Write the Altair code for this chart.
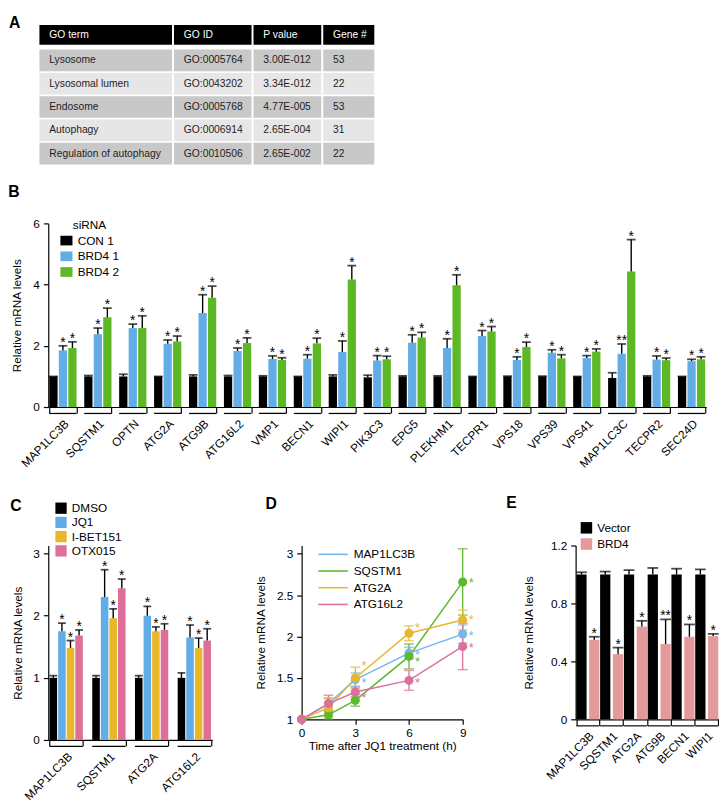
import altair as alt
import pandas as pd

FONT = "Liberation Sans"

# ---------------- Panel A: GO enrichment table ----------------
go_header = ["GO term", "GO ID", "P value", "Gene #"]
go_terms = ["Lysosome", "Lysosomal lumen", "Endosome", "Autophagy", "Regulation of autophagy"]
go_ids = ["GO:0005764", "GO:0043202", "GO:0005768", "GO:0006914", "GO:0010506"]
p_values = ["3.00E-012", "3.34E-012", "4.77E-005", "2.65E-004", "2.65E-002"]
gene_counts = ["53", "22", "53", "31", "22"]

# ---------------- Panel B: siRNA knockdown ----------------
genes_B = ["MAP1LC3B", "SQSTM1", "OPTN", "ATG2A", "ATG9B", "ATG16L2", "VMP1", "BECN1", "WIPI1",
           "PIK3C3", "EPG5", "PLEKHM1", "TECPR1", "VPS18", "VPS39", "VPS41", "MAP1LC3C", "TECPR2", "SEC24D"]
series_B = ["CON 1", "BRD4 1", "BRD4 2"]
con1 = [1, 1, 1, 1, 1, 1, 1, 1, 1, 0.97, 1, 1, 1, 1, 1, 1, 0.95, 1, 1]
con1_err = [0.0, 0.03, 0.07, 0.0, 0.05, 0.03, 0.02, 0.0, 0.05, 0.07, 0.02, 0.02, 0.0, 0.01, 0.01, 0.0, 0.17, 0.02, 0.0]
brd4_1 = [1.85, 2.38, 2.58, 2.07, 3.07, 1.83, 1.57, 1.58, 1.80, 1.52, 2.10, 1.93, 2.32, 1.54, 1.77, 1.60, 1.74, 1.55, 1.50]
brd4_1_err = [0.15, 0.20, 0.13, 0.12, 0.60, 0.10, 0.10, 0.13, 0.36, 0.16, 0.26, 0.30, 0.18, 0.10, 0.10, 0.08, 0.32, 0.12, 0.06]
brd4_2 = [1.93, 2.93, 2.58, 2.14, 3.57, 2.09, 1.54, 2.08, 4.17, 1.56, 2.27, 3.98, 2.47, 1.96, 1.59, 1.81, 4.43, 1.53, 1.56]
brd4_2_err = [0.20, 0.30, 0.40, 0.18, 0.38, 0.17, 0.07, 0.17, 0.45, 0.10, 0.17, 0.34, 0.16, 0.16, 0.12, 0.09, 1.04, 0.07, 0.08]
stars_B1 = ["*", "*", "*", "*", "*", "*", "*", "*", "*", "*", "*", "*", "*", "*", "*", "*", "**", "*", "*"]
stars_B2 = ["*"] * 19
colors_B = ["#000000", "#62ade8", "#5cb824"]

# ---------------- Panel C: BET inhibitors ----------------
genes_C = ["MAP1LC3B", "SQSTM1", "ATG2A", "ATG16L2"]
series_C = ["DMSO", "JQ1", "I-BET151", "OTX015"]
dmso = [1.0, 1.0, 1.0, 1.0]
dmso_err = [0.035, 0.035, 0.035, 0.08]
jq1 = [1.75, 2.30, 2.00, 1.65]
jq1_err = [0.13, 0.44, 0.15, 0.20]
ibet151 = [1.48, 1.96, 1.75, 1.48]
ibet151_err = [0.12, 0.15, 0.07, 0.16]
otx015 = [1.68, 2.44, 1.77, 1.60]
otx015_err = [0.09, 0.15, 0.10, 0.19]
colors_C = ["#000000", "#62ade8", "#e8b82a", "#de6f9b"]

# ---------------- Panel D: time course ----------------
time_h = [0, 1.5, 3, 6, 9]
genes_D = ["MAP1LC3B", "SQSTM1", "ATG2A", "ATG16L2"]
d_map1lc3b = [1.0, 1.19, 1.48, 1.80, 2.03]
d_map1lc3b_err = [0.0, 0.07, 0.08, 0.07, 0.11]
d_sqstm1 = [1.0, 1.055, 1.23, 1.76, 2.66]
d_sqstm1_err = [0.0, 0.05, 0.07, 0.15, 0.40]
d_atg2a = [1.0, 1.14, 1.50, 2.04, 2.20]
d_atg2a_err = [0.0, 0.11, 0.13, 0.09, 0.12]
d_atg16l2 = [1.0, 1.19, 1.33, 1.47, 1.88]
d_atg16l2_err = [0.0, 0.10, 0.06, 0.12, 0.28]
star_D_gene = ["ATG2A", "MAP1LC3B", "ATG16L2",
               "ATG2A", "MAP1LC3B", "SQSTM1", "ATG16L2",
               "SQSTM1", "ATG2A", "MAP1LC3B", "ATG16L2"]
star_D_time = [3, 3, 3, 6, 6, 6, 6, 9, 9, 9, 9]
star_D_y = [1.67, 1.46, 1.28, 2.13, 1.80, 1.71, 1.46, 2.67, 2.22, 2.03, 1.89]
colors_D = ["#74b6ea", "#5cb82e", "#e9b632", "#dd6f9c"]

# ---------------- Panel E: BRD4 overexpression ----------------
genes_E = ["MAP1LC3B", "SQSTM1", "ATG2A", "ATG9B", "BECN1", "WIPI1"]
series_E = ["Vector", "BRD4"]
vector = [1.0, 1.0, 1.0, 1.0, 1.0, 1.0]
vector_err = [0.015, 0.02, 0.03, 0.045, 0.04, 0.035]
brd4_oe = [0.55, 0.45, 0.64, 0.52, 0.57, 0.575]
brd4_oe_err = [0.02, 0.045, 0.04, 0.17, 0.085, 0.015]
stars_E = ["*", "*", "*", "**", "*", "*"]
colors_E = ["#000000", "#e49a9a"]


def letter(t, dx=0, offset=0):
    return alt.TitleParams(t, anchor="start", frame="bounds", fontSize=16, fontWeight="bold",
                           font=FONT, dx=dx, offset=offset, color="black")


# ================= Panel A =================
col_w = [135, 79, 69, 52]
col_gap = 2
hang = 9  # the table starts this many px left of the shared plot origin
head_h, head_gap, row_h, row_gap = 20, 5, 22, 1.75
row_fills = ["#000000", "#c8c8c8", "#e6e6e6", "#c8c8c8", "#e6e6e6", "#c8c8c8"]
x_edges = []
xc = 0
for w in col_w:
    x_edges.append((xc, xc + w))
    xc += w + col_gap
table_rows = [go_header] + [list(r) for r in zip(go_terms, go_ids, p_values, gene_counts)]
cells = []
yc = 0
for r, row in enumerate(table_rows):
    h = head_h if r == 0 else row_h
    for c, txt in enumerate(row):
        cells.append(dict(x0=x_edges[c][0], x1=x_edges[c][1], y0=yc, y1=yc + h, ym=yc + h / 2,
                          text=txt, fill=row_fills[r], tcolor="#ffffff" if r == 0 else "#1e1e1e"))
    yc += h + (head_gap if r == 0 else row_gap)
dfA = pd.DataFrame(cells)
table_w = x_edges[-1][1]
table_h = yc - row_gap
sxA = alt.Scale(domain=[hang, table_w], nice=False, zero=False)
syA = alt.Scale(domain=[0, table_h], nice=False, zero=False, reverse=True)
rectA = alt.Chart(dfA).mark_rect().encode(
    x=alt.X("x0:Q", scale=sxA, axis=None), x2="x1:Q",
    y=alt.Y("y0:Q", scale=syA, axis=None), y2="y1:Q",
    color=alt.Color("fill:N", scale=None))
textA = alt.Chart(dfA).mark_text(align="left", baseline="middle", dx=10, fontSize=10.5, font=FONT).encode(
    x=alt.X("x0:Q", scale=sxA, axis=None),
    y=alt.Y("ym:Q", scale=syA, axis=None),
    text="text:N", color=alt.Color("tcolor:N", scale=None))
panelA = alt.layer(rectA, textA).properties(width=table_w - hang, height=table_h,
                                             title=letter("A", dx=-31, offset=-6))


# ================= bar panel helper =================
def bar_panel(genes, series, value_lists, err_lists, star_lists, colors, ymax, yvals, width, height,
              group_pad, bar_pad, legend, title_pad, label_pad, cap_w, under_y):
    rows = []
    for s, vals, errs, sts in zip(series, value_lists, err_lists, star_lists):
        for i, g in enumerate(genes):
            rows.append(dict(gene=g, grp=s, value=vals[i], top=vals[i] + errs[i],
                             star="" if sts is None else sts[i]))
    df = pd.DataFrame(rows)
    x = alt.X("gene:N", sort=genes, title=None,
              scale=alt.Scale(domain=genes, paddingInner=group_pad, paddingOuter=0.03),
              axis=alt.Axis(labelAngle=-45, tickBand="extent", tickSize=6, labelPadding=label_pad,
                            labelFontSize=12))
    xo = alt.XOffset("grp:N", sort=series, scale=alt.Scale(domain=series, paddingInner=bar_pad, paddingOuter=0))
    y = alt.Y("value:Q", title="Relative mRNA levels",
              scale=alt.Scale(domain=[0, ymax], nice=False, zero=True),
              axis=alt.Axis(values=yvals, format="~g", tickSize=5, labelPadding=4, titlePadding=title_pad,
                            labelOverlap=False))
    base = alt.Chart(df).encode(x=x, xOffset=xo)
    bars = base.mark_bar().encode(
        y=y,
        color=alt.Color("grp:N", sort=series, scale=alt.Scale(domain=series, range=colors), legend=legend))
    err = base.mark_rule(color="black", strokeWidth=1.4).encode(y="value:Q", y2="top:Q")
    caps = base.mark_tick(color="black", orient="horizontal", size=cap_w, thickness=1.8).encode(y="top:Q")
    stars = base.mark_text(fontSize=14, baseline="alphabetic", dy=1, color="black", font=FONT).encode(
        y="top:Q", text="star:N")
    under = alt.Chart(pd.DataFrame({"gene": genes})).mark_bar(color="black").encode(
        x=alt.X("gene:N", sort=genes), y=alt.datum(under_y[0]), y2=alt.datum(under_y[1]))
    return alt.layer(bars, err, caps, stars, under).properties(width=width, height=height)


# ================= Panel B =================
legend_B = alt.Legend(title="siRNA", orient="none", legendX=12, legendY=-3, titleFontSize=12,
                      titleFontWeight="normal", titlePadding=2, titleAnchor="middle", titleAlign="center",
                      labelFontSize=12, padding=0,
                      symbolType="M-1,-0.8H1V0.8H-1Z", symbolSize=151, symbolStrokeWidth=0,
                      symbolOpacity=1, rowPadding=3, labelOffset=5)
panelB = bar_panel(genes_B, series_B, [con1, brd4_1, brd4_2], [con1_err, brd4_1_err, brd4_2_err],
                   [None, stars_B1, stars_B2], colors_B, 6, [0, 1, 2, 3, 4, 5, 6], 670, 187,
                   0.22, 0.13, legend_B, 10, 5, 9, (-0.19, -0.23)).properties(
    title=letter("B", dx=-2, offset=18))

# ================= Panel C =================
legend_C = alt.Legend(title=None, orient="none", legendX=7, legendY=-44, labelFontSize=12, padding=0,
                      symbolType="square", symbolSize=132, symbolStrokeWidth=0, symbolOpacity=1,
                      rowPadding=2.5, labelOffset=5)
panelC = bar_panel(genes_C, series_C, [dmso, jq1, ibet151, otx015],
                   [dmso_err, jq1_err, ibet151_err, otx015_err],
                   [None, ["*"] * 4, ["*"] * 4, ["*"] * 4], colors_C, 3.13,
                   [0, 0.5, 1, 1.5, 2, 2.5, 3], 167, 198, 0.22, 0.12, legend_C, 9, 5, 8,
                   (-0.095, -0.113)).properties(title=letter("C", dx=-1, offset=-12))

# ================= Panel E =================
legend_E = alt.Legend(title=None, orient="none", legendX=5, legendY=-24, labelFontSize=12, padding=0,
                      symbolType="square", symbolSize=137, symbolStrokeWidth=0, symbolOpacity=1,
                      rowPadding=4.5, labelOffset=5)
panelE = bar_panel(genes_E, series_E, [vector, brd4_oe], [vector_err, brd4_oe_err],
                   [None, stars_E], colors_E, 1.2, [0, 0.2, 0.4, 0.6, 0.8, 1, 1.2], 146, 177,
                   0.03, 0.2, legend_E, 15, 5, 11, (-0.041, -0.049)).properties(
    title=letter("E", dx=-17, offset=11))

# ================= Panel D =================
d_vals = [d_map1lc3b, d_sqstm1, d_atg2a, d_atg16l2]
d_errs = [d_map1lc3b_err, d_sqstm1_err, d_atg2a_err, d_atg16l2_err]
rowsD = []
for g, vals, errs in zip(genes_D, d_vals, d_errs):
    for t, v, e in zip(time_h, vals, errs):
        rowsD.append(dict(gene=g, time=t, value=v, lo=v - e, hi=v + e, err=e))
dfD = pd.DataFrame(rowsD)
dfDs = pd.DataFrame({"gene": star_D_gene, "time": star_D_time, "y": star_D_y})
dfDs["sx"] = dfDs["time"] + 0.48

xD = alt.X("time:Q", title="Time after JQ1 treatment (h)",
           scale=alt.Scale(domain=[0, 9], nice=False, zero=False),
           axis=alt.Axis(values=[0, 3, 6, 9], tickSize=5, labelPadding=3, titlePadding=3, labelFlush=False))
yD = alt.Y("value:Q", title="Relative mRNA levels",
           scale=alt.Scale(domain=[1, 3.1], nice=False, zero=False),
           axis=alt.Axis(values=[1, 1.5, 2, 2.5, 3], format="~g", tickSize=5, labelPadding=4, titlePadding=9,
                         labelOverlap=False))
strokeD = alt.Stroke("gene:N", sort=genes_D, scale=alt.Scale(domain=genes_D, range=colors_D),
                     legend=alt.Legend(title=None, orient="none", legendX=26, legendY=3, labelFontSize=12,
                                       padding=0, symbolType="M-3,0H3", symbolSize=100,
                                       symbolStrokeWidth=1.6, rowPadding=5, labelOffset=15))
fillD = alt.Fill("gene:N", sort=genes_D, scale=alt.Scale(domain=genes_D, range=colors_D), legend=None)

baseD = alt.Chart(dfD).encode(x=xD)
lineD = baseD.mark_line(strokeWidth=1.5).encode(y=yD, stroke=strokeD)
errD = baseD.mark_rule(strokeWidth=1.3).encode(y="lo:Q", y2="hi:Q", stroke=strokeD).transform_filter("datum.err > 0")
capHi = baseD.mark_tick(orient="horizontal", size=10, thickness=1.5).encode(y="hi:Q", fill=fillD).transform_filter("datum.err > 0")
capLo = baseD.mark_tick(orient="horizontal", size=10, thickness=1.5).encode(y="lo:Q", fill=fillD).transform_filter("datum.err > 0")
ptsD = baseD.mark_circle(size=85, opacity=1).encode(y="value:Q", fill=fillD)
starsD = alt.Chart(dfDs).mark_text(text="*", fontSize=13, baseline="alphabetic", dy=6, font=FONT).encode(
    x="sx:Q", y="y:Q", fill=fillD)
panelD = alt.layer(lineD, errD, capHi, capLo, ptsD, starsD).properties(
    width=164, height=177, title=letter("D", dx=11, offset=34))

# ================= Layout =================
indep = dict(color="independent", xOffset="independent", fill="independent", stroke="independent")
leg = dict(color="independent", fill="independent", stroke="independent")
inner = alt.hconcat(panelD, panelE, spacing=32).resolve_scale(**indep).resolve_legend(**leg)
bottom = alt.hconcat(panelC, inner, spacing=43).resolve_scale(**indep).resolve_legend(**leg)
top = alt.concat(panelA, panelB, columns=1, align="none", spacing=20).resolve_scale(**indep).resolve_legend(
    color="independent")
chart = alt.concat(top, bottom, columns=1, align="none", spacing=26).resolve_scale(**indep).resolve_legend(
    **leg).properties(padding=0)

chart = chart.configure(font=FONT).configure_view(stroke=None).configure_axis(
    grid=False, domainColor="black", tickColor="black", labelColor="black", titleColor="black",
    labelFontSize=12, titleFontSize=12, titleFontWeight="normal", domainWidth=1.2, tickWidth=1.2,
    labelFont=FONT, titleFont=FONT
).configure_legend(labelColor="black", labelFont=FONT, titleFont=FONT)

chart.save("out.html", embed_options={"renderer": "svg", "actions": False})
